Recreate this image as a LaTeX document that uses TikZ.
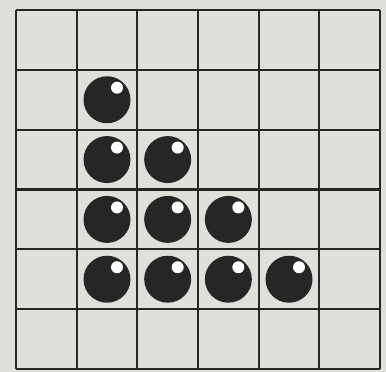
\documentclass[tikz,border=0pt]{standalone}
\usepackage{tikz}

\definecolor{paper}{RGB}{224,224,219}
\definecolor{ink}{RGB}{38,38,38}

\begin{document}
\begin{tikzpicture}[
x=0.02cm,y=-0.02cm,
grid line/.style={draw=ink,line width=1.2pt},
ball/.style={circle,fill=ink,inner sep=0pt,minimum size=0.94cm},
shine/.style={circle,fill=white,inner sep=0pt,minimum size=0.24cm}
]
\fill[paper] (0,0) rectangle (386,372);
\useasboundingbox (0,0) rectangle (386,372);
% grid
\foreach \i in {0,...,6}{
  \draw[grid line] ({16+60.67*\i},10) -- ({16+60.67*\i},369);
  \draw[grid line] (16,{10+59.83*\i}) -- (380,{10+59.83*\i});
}
% balls
\foreach \r in {1,...,4}{
  \foreach \c in {1,...,\r}{
    \node[ball] (b\r\c) at ({16+60.67*(\c+0.5)},{10+59.83*(\r+0.5)}) {};
    \node[shine] (s\r\c) at ([shift={(10,-12)}]b\r\c.center) {};
  }
}
\end{tikzpicture}
\end{document}
